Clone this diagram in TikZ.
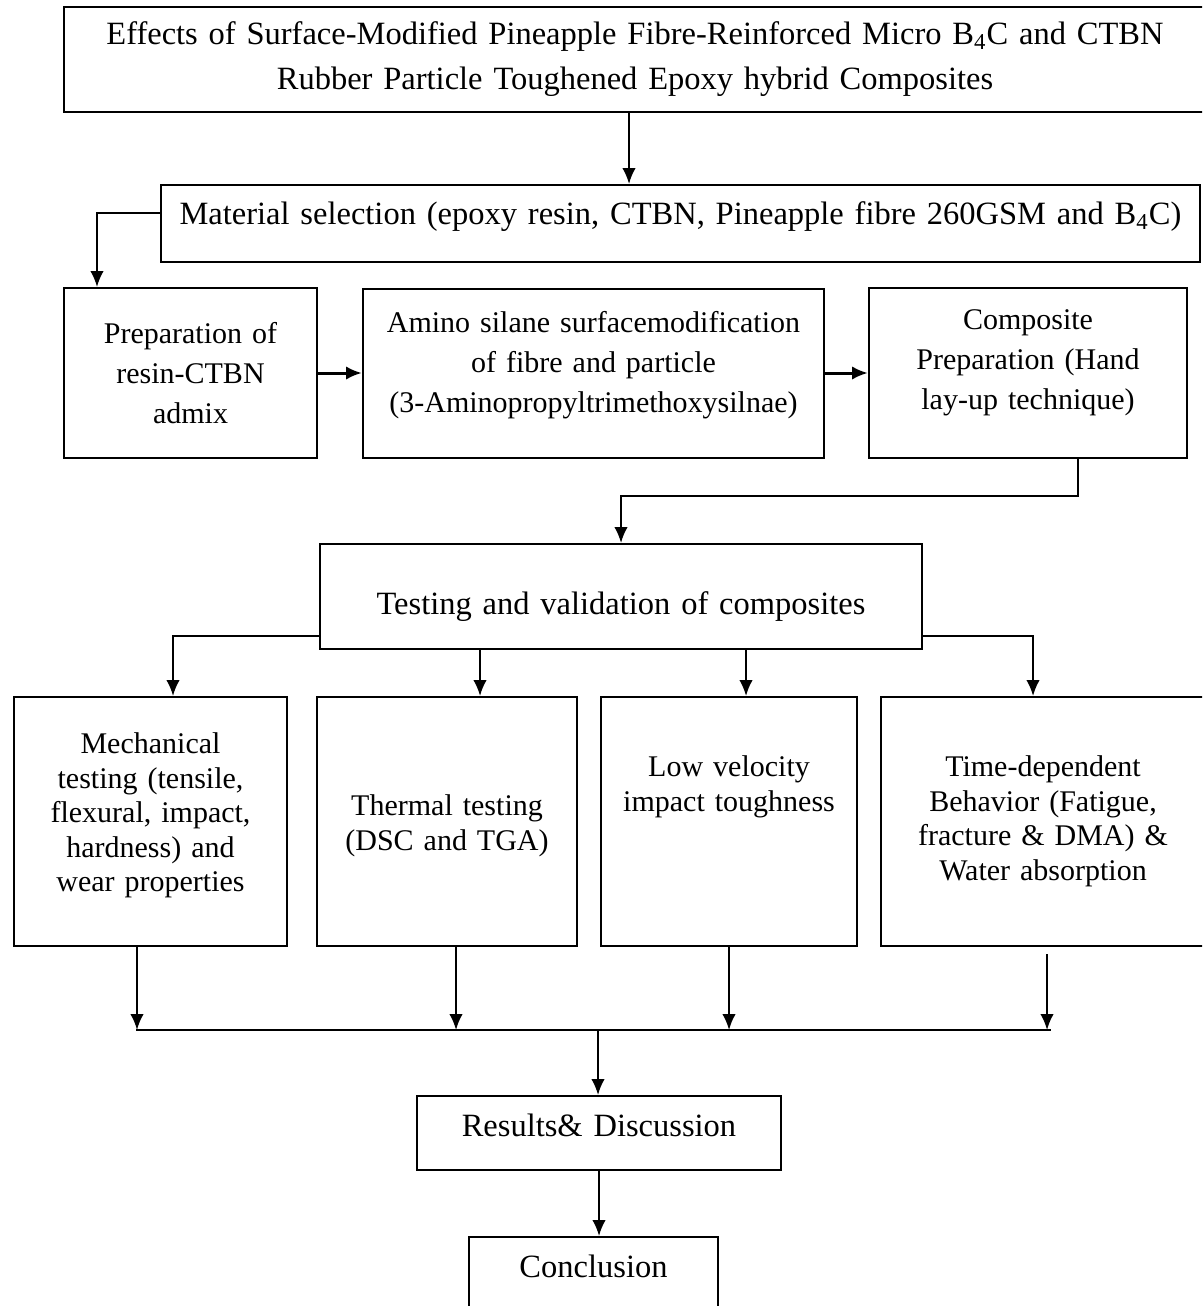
\documentclass[tikz,border=0pt]{standalone}
\usepackage{fontspec}
\setmainfont{Liberation Serif}
\usetikzlibrary{arrows.meta,positioning}
\newcommand{\lowstrut}[1]{\rule[-#1]{0pt}{#1}}
\newcommand{\highstrut}[1]{\rule{0pt}{#1}}
\tikzstyle{stepbox} = [draw, line width=0.8pt, align=center, inner sep=0pt]
\tikzstyle{headbox} = [stepbox, font={\fontsize{13}{18}\selectfont}]
\tikzstyle{midbox}  = [stepbox, font={\fontsize{12}{16}\selectfont}]
\tikzstyle{lowbox}  = [stepbox, font={\fontsize{12}{13.8}\selectfont}]
\tikzstyle{tedge}   = [draw, line width=0.8pt, >={Latex[length=6.4pt,width=5.4pt]}, ->]
\tikzstyle{tline}   = [draw, line width=0.8pt]
\begin{document}
\begin{tikzpicture}[x=0.4pt, y=-0.4pt]
\useasboundingbox (0,0) rectangle (1202,1306);
\clip (0,0) rectangle (1202,1306);

% boxes at the top =============================
\node[headbox, text width=456.8pt, minimum height=42pt] (title) at (635,59.5) {Effects of Surface-Modified Pineapple Fibre-Reinforced Micro B\textsubscript{4}C and CTBN\\Rubber Particle Toughened Epoxy hybrid Composites};
\node[headbox, text width=415.6pt, minimum height=30.8pt] (mat) at (680.5,223.5) {Material selection (epoxy resin, CTBN, Pineapple fibre 260GSM and B\textsubscript{4}C)\lowstrut{8pt}};

% preparation row
\node[midbox, text width=101.2pt, minimum height=68pt] (prep) at (190.5,373) {Preparation of\\resin-CTBN\\admix};
\node[midbox, text width=184.4pt, minimum height=67.6pt, right=17.6pt of prep] (amino) {Amino silane surfacemodification\\of fibre and particle\\(3-Aminopropyltrimethoxysilnae)\lowstrut{8.7pt}};
\node[midbox, text width=127.2pt, minimum height=68pt, right=17.2pt of amino] (comp) {Composite\\Preparation (Hand\\lay-up technique)\lowstrut{10.7pt}};

% testing
\node[headbox, text width=240.8pt, minimum height=42pt] (test) at (621,596.5) {\highstrut{17.5pt}Testing and validation of composites};

% test boxes
\node[lowbox, text width=109.2pt, minimum height=99.6pt] (mech) at (150.5,821.5) {Mechanical\\testing (tensile,\\flexural, impact,\\hardness) and\\wear properties\lowstrut{7.5pt}};
\node[lowbox, text width=104pt, minimum height=99.6pt, right=11.2pt of mech] (thermal) {\highstrut{11.9pt}Thermal testing\\(DSC and TGA)};
\node[lowbox, text width=102.4pt, minimum height=99.6pt, right=8.8pt of thermal] (low) {Low velocity\\impact toughness\lowstrut{30.3pt}};
\node[lowbox, text width=129.6pt, minimum height=99.6pt, right=8.8pt of low] (time) {Time-dependent\\Behavior (Fatigue,\\fracture \& DMA) \&\\Water absorption};

% results
\node[headbox, text width=145.6pt, minimum height=29.6pt] (res) at (599,1133) {Results\& Discussion\lowstrut{6pt}};
\node[headbox, text width=99.6pt, minimum height=32pt] (concl) at (593.5,1277) {Conclusion\lowstrut{9pt}};
\coordinate (merge) at (598,1030);

% edges at the top
\path[tedge] ([xshift=-2.4pt]title.south) -- ([xshift=-2.4pt]title.south |- mat.north);
\path[tedge] ([yshift=4.2pt]mat.west) -| ([xshift=13.6pt]prep.north west);
\path[tedge, line width=1.2pt] (prep) -- (amino);
\path[tedge, line width=1.2pt] (amino) -- (comp);
\path[tedge] ([xshift=20pt]comp.south) -- ++(0,37) -| (test.north);

% edges from testing
\path[tedge] ([yshift=-15.8pt]test.west) -| ([xshift=9pt]mech.north);
\path[tedge] ([xshift=13.2pt]thermal.north |- test.south) -- ([xshift=13.2pt]thermal.north);
\path[tedge] ([xshift=6.8pt]low.north |- test.south) -- ([xshift=6.8pt]low.north);
\path[tedge] ([yshift=-15.8pt]test.east) -| ([xshift=-4pt]time.north);

% edges to results
\path[tedge] ([xshift=-5.4pt]mech.south) -- ([xshift=-5.4pt]mech.south |- merge);
\path[tedge] ([xshift=3.6pt]thermal.south) -- ([xshift=3.6pt]thermal.south |- merge);
\path[tedge] (low.south) -- (low.south |- merge);
\path[tedge] ([xshift=1.6pt,yshift=-2.8pt]time.south) -- ([xshift=1.6pt]time.south |- merge);
\path[tline] ([xshift=-5.8pt]mech.south |- merge) -- ([xshift=3pt]time.south |- merge);
\path[tedge] (merge) -- (res.north -| merge);
\path[tedge] (res.south) -- (res.south |- concl.north);

\end{tikzpicture}
\end{document}
